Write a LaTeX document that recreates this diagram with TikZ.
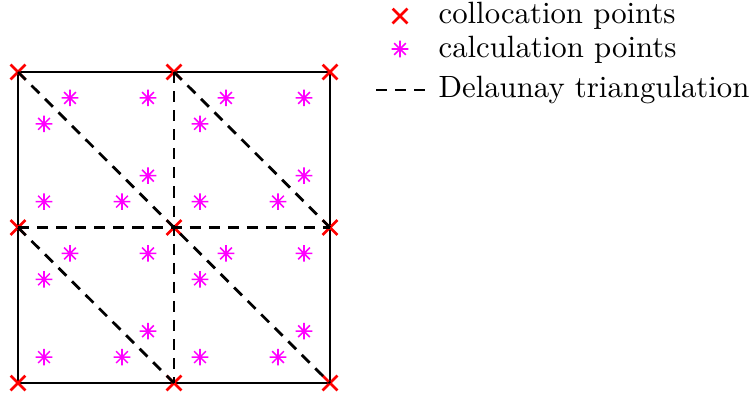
\documentclass[tikz,border=0pt]{standalone}
\usetikzlibrary{shapes.misc}
\definecolor{colred}{HTML}{FF0000}
\definecolor{calcmag}{HTML}{FF00FF}
\tikzset{
  colpt/.style    = {cross out, draw=colred, line width=0.85pt,
                     minimum size=4.8pt, inner sep=0pt, outer sep=0pt},
  border/.style   = {draw=black, line width=0.9pt},
  delaunay/.style = {draw=black, line width=0.9pt, dash pattern=on 3.6pt off 2.6pt},
  legtext/.style  = {anchor=base west, inner sep=0pt},
  calcpt/.pic     = {\draw[calcmag, line width=0.5pt]
                     (-2.7pt,0) -- (2.7pt,0) (0,-2.7pt) -- (0,2.7pt)
                     (-1.9pt,-1.9pt) -- (1.9pt,1.9pt) (-1.9pt,1.9pt) -- (1.9pt,-1.9pt);},
}
\begin{document}
\begin{tikzpicture}[x=0.325pt, y=-0.325pt]
    \useasboundingbox (0,0) rectangle (754,398);
    % grid of collocation points
    \foreach \i in {0,1,2}
      \foreach \j in {0,1,2}
        \coordinate (p-\i-\j) at ({18+156*\i},{72+155.5*\j});
    \draw[border] (p-0-0) -- (p-2-0) -- (p-2-2) -- (p-0-2) -- cycle;
    \foreach \i in {0,1,2}
      \foreach \j in {0,1,2}
        \node[colpt] (c-\i-\j) at (p-\i-\j) {};
    % triangulation
    \draw[delaunay] (p-1-0) -- (p-1-2);
    \draw[delaunay] (p-0-1) -- (p-2-1);
    \draw[delaunay] (p-0-0) -- (p-2-2);
    \draw[delaunay] (p-1-0) -- (p-2-1);
    \draw[delaunay] (p-0-1) -- (p-1-2);
    % calculation points, six per square
    \foreach \i in {0,1}
      \foreach \j in {0,1}
        \foreach \u/\v in {0.3333/0.1667, 0.8333/0.1667, 0.8333/0.6667,
                           0.1667/0.3333, 0.1667/0.8333, 0.6667/0.8333}
          \pic at ({18+156*(\i+\u)},{72+155.5*(\j+\v)}) {calcpt};
    % legend
    \node[colpt] (lgcol) at (400,16) {};
    \node[legtext] (lgcoltxt) at (438,23) {collocation points};
    \pic at (400,49) {calcpt};
    \node[legtext] (lgcalctxt) at (438,57) {calculation points};
    \coordinate (lgdl) at (376,90);
    \coordinate (lgdr) at (426,90);
    \draw[delaunay] (lgdl) -- (lgdr);
    \node[legtext] (lgdeltxt) at (438,97) {Delaunay triangulation};
\end{tikzpicture}
\end{document}
